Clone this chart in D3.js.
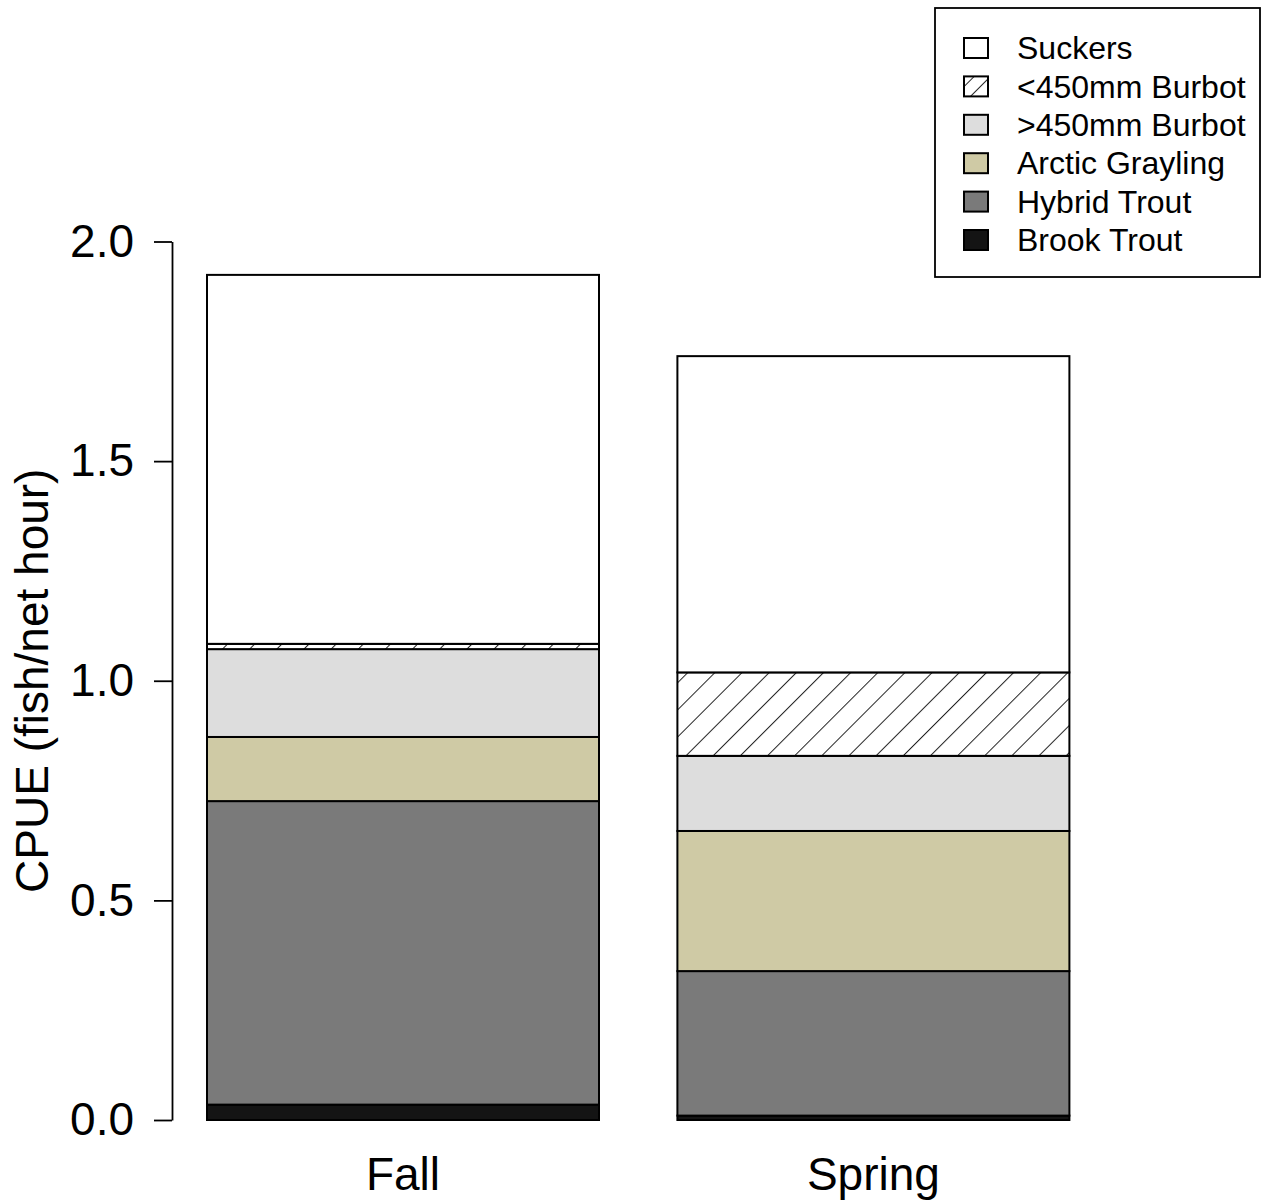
<!DOCTYPE html>
<html>
<head>
<meta charset="utf-8">
<script src="https://cdn.jsdelivr.net/npm/d3@7"></script>
<style>
  body { margin: 0; background: #fff; }
  svg { display: block; font-family: "Liberation Sans", Arial, Helvetica, sans-serif; }
</style>
</head>
<body>
<svg id="chart" width="1265" height="1200"></svg>
<script>
// Catch per unit effort by season, stacked by species group (bottom to top)
const seasons = ["Fall", "Spring"];
const species = ["Brook Trout", "Hybrid Trout", "Arctic Grayling", ">450mm Burbot", "<450mm Burbot", "Suckers"];
const brookTrout     = [0.035, 0.010];
const hybridTrout    = [0.691, 0.329];
const arcticGrayling = [0.146, 0.319];
const burbotLarge    = [0.200, 0.171];
const burbotSmall    = [0.012, 0.190];
const suckers        = [0.840, 0.720];
const yTicks = [0, 0.5, 1.0, 1.5, 2.0];

const seriesValues = [brookTrout, hybridTrout, arcticGrayling, burbotLarge, burbotSmall, suckers];
const rows = seasons.map((s, i) => {
  const r = { season: s };
  species.forEach((sp, j) => { r[sp] = seriesValues[j][i]; });
  return r;
});

const fills = {
  "Brook Trout": "#141414",
  "Hybrid Trout": "#7a7a7a",
  "Arctic Grayling": "#cfcaa5",
  ">450mm Burbot": "#dddddd",
  "<450mm Burbot": "url(#hatch)",
  "Suckers": "#ffffff"
};

const svg = d3.select("#chart");

// diagonal hatch for the small burbot class (bars and legend key)
const defs = svg.append("defs");
function addHatch(id, spacing, offset) {
  const p = defs.append("pattern")
    .attr("id", id)
    .attr("patternUnits", "userSpaceOnUse")
    .attr("width", spacing).attr("height", 10)
    .attr("patternTransform", `translate(${offset},0) rotate(45)`);
  p.append("rect").attr("width", spacing).attr("height", 10).attr("fill", "#fff");
  p.append("line").attr("x1", 0).attr("y1", -1).attr("x2", 0).attr("y2", 11)
    .attr("stroke", "#222").attr("stroke-width", 2);
}
addHatch("hatch", 19.2, 2);
addHatch("hatchKey", 11.5, 4);

const x = d3.scaleBand()
  .domain(seasons)
  .range([128.6, 1147.8])
  .paddingInner(1 / 6)
  .paddingOuter(1 / 6);

const y = d3.scaleLinear().domain([0, 2]).range([1120, 241.5]);

const stack = d3.stack().keys(species)(rows);

svg.append("g")
  .selectAll("g")
  .data(stack)
  .join("g")
  .attr("fill", d => fills[d.key])
  .selectAll("rect")
  .data(d => d)
  .join("rect")
  .attr("x", d => x(d.data.season))
  .attr("width", x.bandwidth())
  .attr("y", d => y(d[1]))
  .attr("height", d => y(d[0]) - y(d[1]))
  .attr("stroke", "#000")
  .attr("stroke-width", 2);

// y axis
const yAxis = svg.append("g")
  .attr("transform", "translate(172,0)")
  .call(d3.axisLeft(y).tickValues(yTicks).tickFormat(d3.format(".1f"))
    .tickSize(18).tickSizeOuter(0).tickPadding(20));
yAxis.select(".domain").attr("stroke", "#000").attr("stroke-width", 1.8);
yAxis.selectAll(".tick line").attr("stroke", "#000").attr("stroke-width", 1.8);
yAxis.selectAll(".tick text")
  .attr("font-size", 46)
  .attr("fill", "#000")
  .attr("font-family", "Liberation Sans, Arial, sans-serif");

// season labels
svg.append("g")
  .selectAll("text")
  .data(seasons)
  .join("text")
  .attr("x", d => x(d) + x.bandwidth() / 2)
  .attr("y", 1190)
  .attr("text-anchor", "middle")
  .attr("font-size", 46)
  .text(d => d);

// y axis title
svg.append("text")
  .attr("transform", `translate(48,${(y(0) + y(2)) / 2}) rotate(-90)`)
  .attr("text-anchor", "middle")
  .attr("font-size", 46)
  .text("CPUE (fish/net hour)");

// legend, top row first
const legend = svg.append("g");
legend.append("rect")
  .attr("x", 935).attr("y", 8)
  .attr("width", 325).attr("height", 269)
  .attr("fill", "#fff").attr("stroke", "#000").attr("stroke-width", 1.8);

const legendOrder = species.slice().reverse();
const items = legend.selectAll("g.item")
  .data(legendOrder)
  .join("g")
  .attr("class", "item")
  .attr("transform", (d, i) => `translate(0,${48 + i * 38.4})`);
items.append("rect")
  .attr("x", 964).attr("y", -10)
  .attr("width", 24).attr("height", 20)
  .attr("fill", d => d === "<450mm Burbot" ? "url(#hatchKey)" : fills[d])
  .attr("stroke", "#000").attr("stroke-width", 2);
items.append("text")
  .attr("x", 1017).attr("y", 0).attr("dy", "0.35em")
  .attr("font-size", 32)
  .text(d => d);
</script>
</body>
</html>
